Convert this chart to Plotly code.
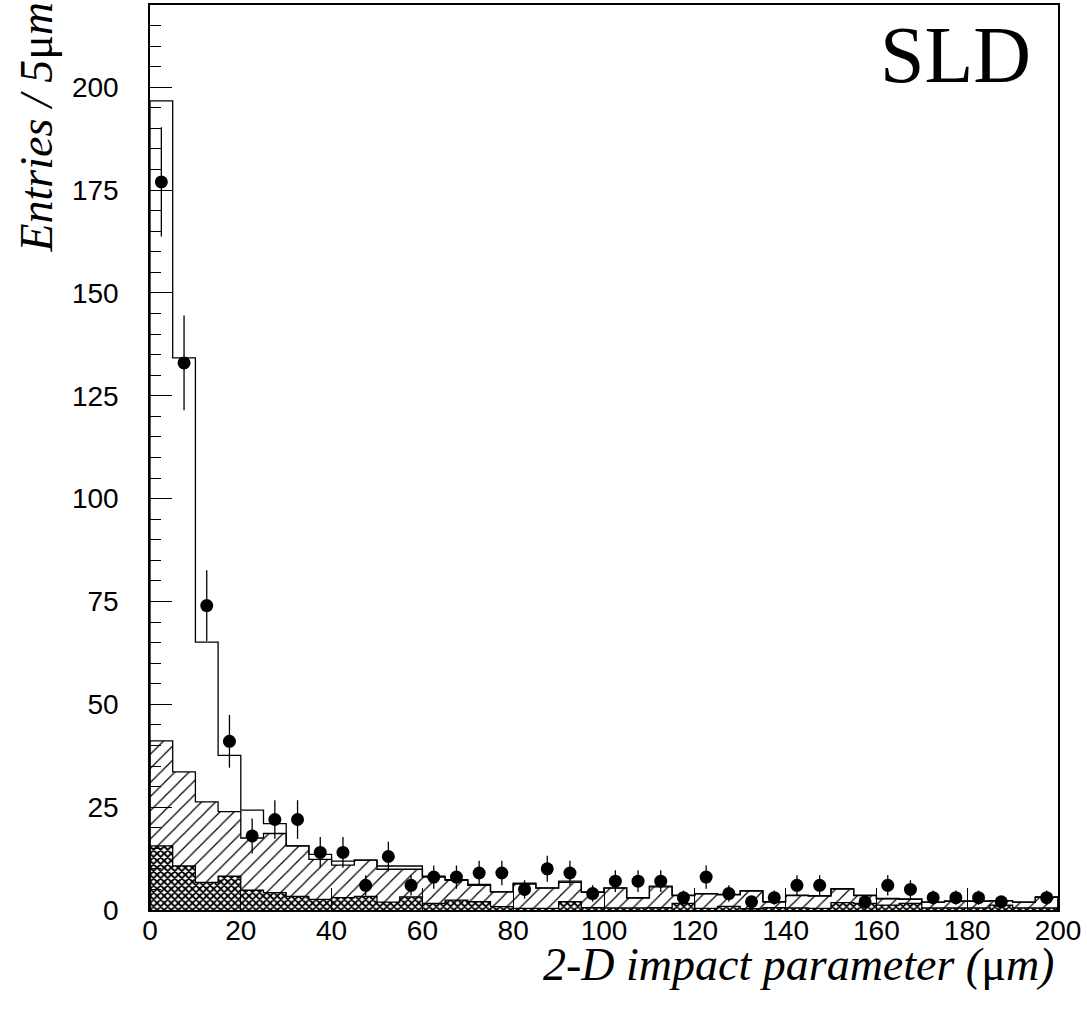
import numpy as np
import plotly.graph_objects as go

# ---- data (5 um bins from 0 to 200 um) ----
bin_width = 5
bin_edges = list(range(0, 205, 5))
bin_centers = [e + 2.5 for e in range(0, 200, 5)]

total_mc = [196.7, 134.2, 65.1, 37.6, 24.3, 21.0, 15.6, 13.5, 11.9, 12.1,
            10.7, 10.7, 8.2, 7.4, 6.2, 4.4, 6.5, 5.4, 7.0, 4.4,
            5.4, 3.0, 5.8, 3.6, 4.0, 3.8, 4.7, 2.0, 3.6, 3.5,
            5.2, 3.6, 2.8, 2.7, 1.9, 2.2, 2.2, 2.3, 1.9, 3.2]

hatched_mc = [41.1, 33.6, 26.3, 23.9, 17.5, 18.6, 15.6, 12.3, 10.9, 12.1,
              9.9, 9.9, 8.0, 7.2, 6.0, 4.4, 6.3, 5.3, 6.7, 4.3,
              5.3, 2.9, 5.6, 3.5, 3.9, 3.7, 4.6, 2.0, 3.5, 3.4,
              5.1, 3.5, 2.7, 2.6, 1.9, 2.1, 2.1, 2.2, 1.9, 3.1]

crosshatched_mc = [15.6, 10.7, 6.7, 8.2, 4.8, 4.2, 3.3, 2.6, 3.0, 3.3,
                   1.9, 3.2, 1.6, 2.4, 2.0, 0.8, 0.4, 0.4, 2.0, 0.6,
                   0.5, 0.5, 0.6, 1.6, 0.4, 0.9, 0.3, 0.6, 0.5, 0.4,
                   1.8, 1.6, 1.2, 1.6, 0.5, 0.5, 0.5, 1.2, 0.5, 0.5]

data_counts = [177, 133, 74, 41, 18, 22, 22, 14, 14, 6,
               13, 6, 8, 8, 9, 9, 5, 10, 9, 4,
               7, 7, 7, 3, 8, 4, 2, 3, 6, 6,
               0, 2, 6, 5, 3, 3, 3, 2, 0, 3]

y_ticks = [0, 25, 50, 75, 100, 125, 150, 175, 200]
x_ticks = [0, 20, 40, 60, 80, 100, 120, 140, 160, 180, 200]


def step_xy(vals):
    xs = [bin_edges[0]] + list(bin_edges) + [bin_edges[-1]]
    ys = [0] + [vals[0]] + list(vals[1:]) + [vals[-1], 0]
    return xs, ys


fig = go.Figure()

# hatched component
fig.add_trace(go.Bar(
    x=bin_centers, y=hatched_mc, width=bin_width,
    marker=dict(color="white", line=dict(width=0),
                pattern=dict(shape="/", fgcolor="black", bgcolor="white",
                             size=10, solidity=0.12, fillmode="replace")),
    showlegend=False, hoverinfo="skip"))

# cross-hatched component
fig.add_trace(go.Bar(
    x=bin_centers, y=crosshatched_mc, width=bin_width,
    marker=dict(color="white", line=dict(width=0),
                pattern=dict(shape="x", fgcolor="black", bgcolor="white",
                             size=5, solidity=0.62, fillmode="replace")),
    showlegend=False, hoverinfo="skip"))

# outlines
for vals in [hatched_mc, crosshatched_mc, total_mc]:
    xs, ys = step_xy(vals)
    fig.add_trace(go.Scatter(x=xs, y=ys, mode="lines", line_shape="hv",
                             line=dict(color="black", width=1.3),
                             showlegend=False, hoverinfo="skip"))

# data points
pts_x = [c for c, n in zip(bin_centers, data_counts) if n > 0]
pts_y = [n for n in data_counts if n > 0]
pts_e = [float(np.sqrt(n)) for n in pts_y]
fig.add_trace(go.Scatter(
    x=pts_x, y=pts_y, mode="markers",
    marker=dict(color="black", size=13, symbol="circle"),
    error_y=dict(type="data", array=pts_e, visible=True, width=0,
                 thickness=1.3, color="black"),
    showlegend=False, hoverinfo="skip"))

L, R, T, B = 150, 29, 3, 104
W, H = 1087, 1014
pw = W - L - R
ph = H - T - B

serif = "Liberation Serif, Times New Roman, serif"

fig.update_layout(
    width=W, height=H,
    margin=dict(l=L, r=R, t=T, b=B, pad=0),
    paper_bgcolor="white", plot_bgcolor="white",
    barmode="overlay", bargap=0,
    font=dict(family="Liberation Sans, Arial, sans-serif", size=28, color="black"),
    xaxis=dict(range=[0, 200], tickvals=x_ticks, ticks="inside", ticklen=22,
               tickwidth=1, tickcolor="black", showline=True, linecolor="black",
               linewidth=1.5, mirror=True, showgrid=False, zeroline=False,
               ticklabelstandoff=-5, tickfont=dict(size=28)),
    yaxis=dict(range=[0, 220], tickvals=y_ticks, ticks="inside", ticklen=22,
               tickwidth=1, tickcolor="black", showline=True, linecolor="black",
               linewidth=1.5, mirror=True, showgrid=False, zeroline=False,
               ticklabelstandoff=24, tickfont=dict(size=28),
               minor=dict(dtick=5, ticks="inside", ticklen=11, tickwidth=1,
                          tickcolor="black", showgrid=False)),
    annotations=[
        dict(text="SLD", xref="paper", yref="paper",
             x=(955 - L) / pw, y=(910 - 53) / ph, xanchor="center", yanchor="middle",
             showarrow=False, font=dict(family=serif, size=80, color="black")),
        dict(text="<i>2-D impact parameter (</i>μ<i>m)</i>", xref="paper", yref="paper",
             x=(1056 - L) / pw, y=(910 - 965) / ph, xanchor="right", yanchor="middle",
             showarrow=False, font=dict(family=serif, size=46, color="black")),
        dict(text="<i>Entries / 5</i>μ<i>m</i>", xref="paper", yref="paper",
             x=(37 - L) / pw, y=(910 + 2) / ph, xanchor="center", yanchor="top",
             textangle=-90, showarrow=False, font=dict(family=serif, size=46, color="black")),
    ],
)

fig.write_html("out.html", config={"displayModeBar": False},
               post_script="document.body.style.margin='0px';document.body.style.padding='0px';")
